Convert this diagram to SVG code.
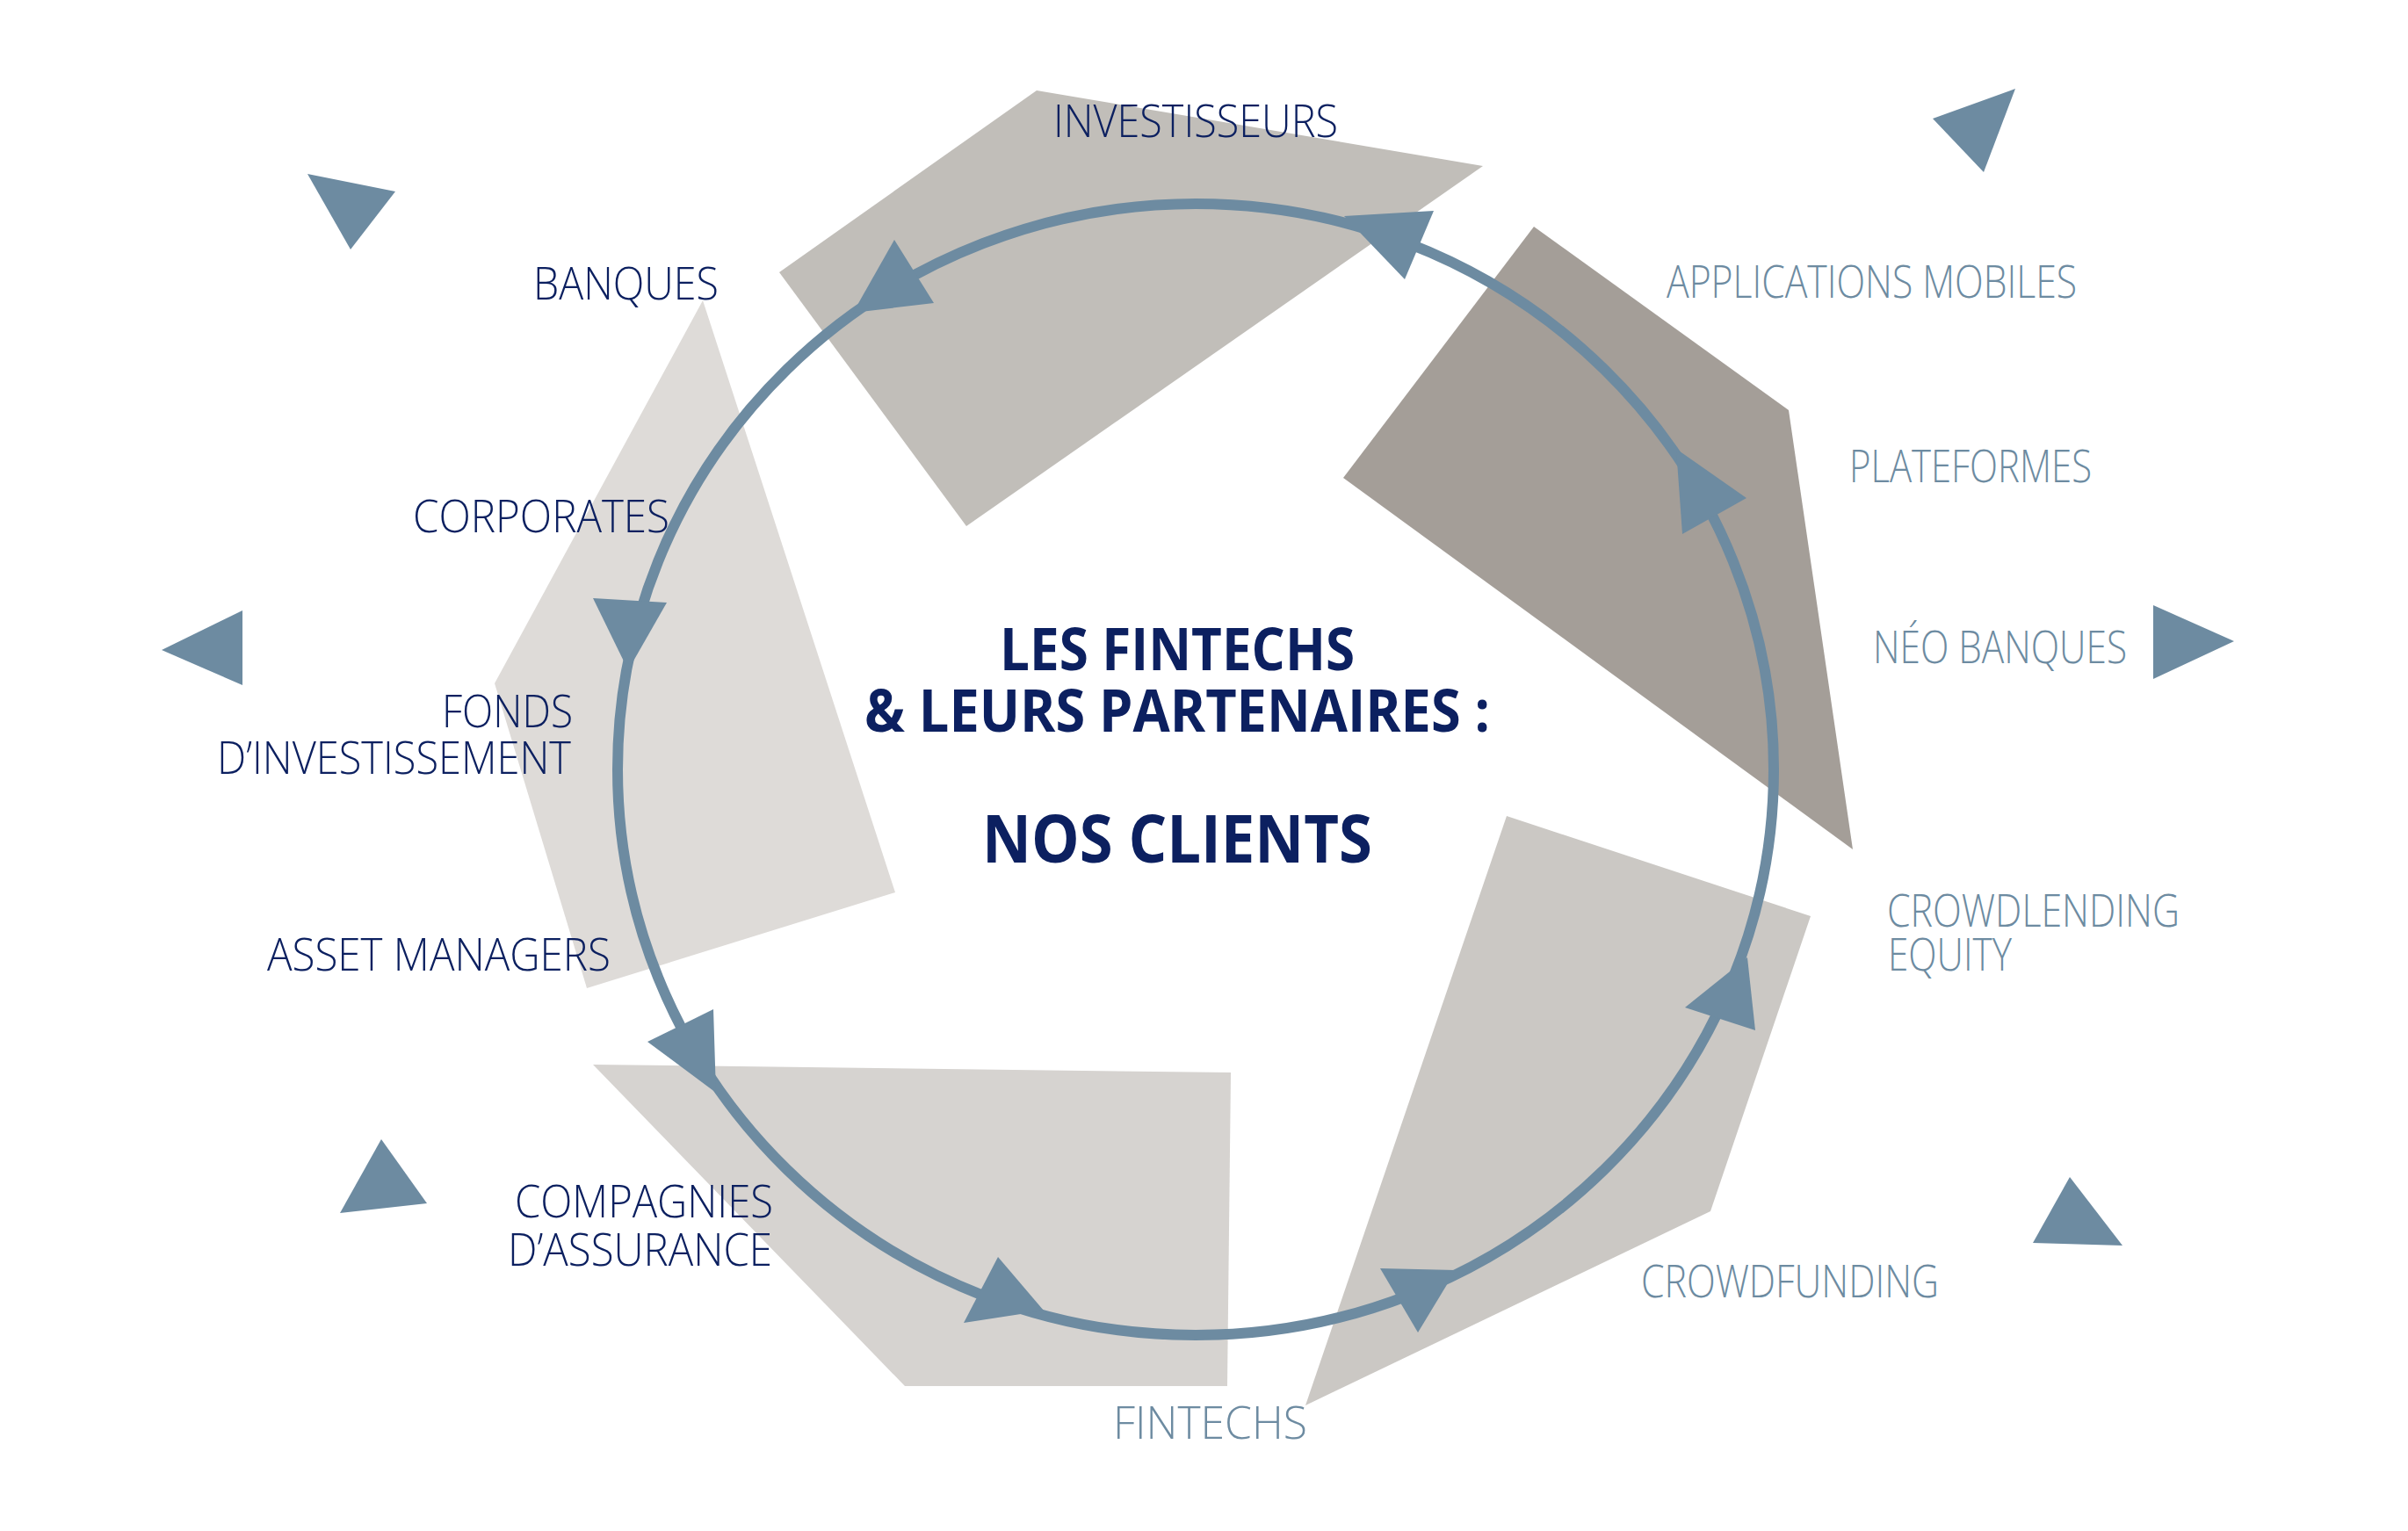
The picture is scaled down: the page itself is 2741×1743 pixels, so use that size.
<svg xmlns="http://www.w3.org/2000/svg" width="2741" height="1743" viewBox="0 0 2741 1743">
<style>
.lbl{font-family:"Open Sans","Lato","Liberation Sans",sans-serif;font-weight:300;font-size:52px;}
.navy{fill:#0c2060;}
.steel{fill:#6d8ba1;}
.title{font-family:"Open Sans","Liberation Sans",sans-serif;font-weight:700;fill:#0c2060;}
.tri{fill:#6d8ba1;}
</style>
<rect width="2741" height="1743" fill="#ffffff"/>
<g id="shapes">
<polygon id="shape-investisseurs" points="1180,103 1688,189 1100,599 887,310" fill="#c1beb9"/>
<polygon id="shape-applications" points="1746,258 2036,467 2109,967 1529,544" fill="#a49e98"/>
<polygon id="shape-banques" points="800,342 1019,1016 668,1125 563,778" fill="#dedbd8"/>
<polygon id="shape-compagnies" points="675,1212 1401,1221 1397,1578 1030,1578" fill="#d6d3d0"/>
<polygon id="shape-crowdfunding" points="1715,929 2061,1043 1947,1379 1486,1600" fill="#cbc8c4"/>
</g>
<g id="connectors">
<ellipse cx="1361" cy="876" rx="658" ry="644" fill="none" stroke="#6d8ba1" stroke-width="12"/>
<polygon class="tri" points="1018,273 1063,345 971,356"/>
<polygon class="tri" points="1530,246 1632,240 1599,318"/>
<polygon class="tri" points="1908,511 1988,567 1915,608"/>
<polygon class="tri" points="1918,1147 1989,1090 1998,1173"/>
<polygon class="tri" points="1571,1444 1657,1446 1614,1517"/>
<polygon class="tri" points="1136,1431 1097,1506 1188,1492"/>
<polygon class="tri" points="737,1186 812,1149 815,1244"/>
<polygon class="tri" points="675,681 759,686 715,763"/>
</g>
<g id="decor">
<polygon class="tri" points="350,198 450,218 399,284"/>
<polygon class="tri" points="184,740 276,695 276,780"/>
<polygon class="tri" points="434,1297 486,1370 387,1381"/>
<polygon class="tri" points="2200,135 2294,101 2258,196"/>
<polygon class="tri" points="2451,689 2543,730 2451,773"/>
<polygon class="tri" points="2356,1340 2416,1418 2314,1415"/>
</g>
<g id="node-investisseurs"><text class="lbl navy" x="1199" y="156" textLength="324" lengthAdjust="spacingAndGlyphs">INVESTISSEURS</text></g>
<g id="node-banques"><text class="lbl navy" x="607" y="341" textLength="211" lengthAdjust="spacingAndGlyphs">BANQUES</text></g>
<g id="node-corporates"><text class="lbl navy" x="470" y="606" textLength="292" lengthAdjust="spacingAndGlyphs">CORPORATES</text></g>
<g id="node-fonds">
<text class="lbl navy" x="503" y="828" textLength="149" lengthAdjust="spacingAndGlyphs">FONDS</text>
<text class="lbl navy" x="247" y="881" textLength="403" lengthAdjust="spacingAndGlyphs">D’INVESTISSEMENT</text>
</g>
<g id="node-asset"><text class="lbl navy" x="304" y="1105" textLength="391" lengthAdjust="spacingAndGlyphs">ASSET MANAGERS</text></g>
<g id="node-compagnies">
<text class="lbl navy" x="586" y="1386" textLength="294" lengthAdjust="spacingAndGlyphs">COMPAGNIES</text>
<text class="lbl navy" x="578" y="1441" textLength="301" lengthAdjust="spacingAndGlyphs">D’ASSURANCE</text>
</g>
<g id="node-applications"><text class="lbl steel" x="1897" y="339" textLength="467" lengthAdjust="spacingAndGlyphs">APPLICATIONS MOBILES</text></g>
<g id="node-plateformes"><text class="lbl steel" x="2105" y="549" textLength="276" lengthAdjust="spacingAndGlyphs">PLATEFORMES</text></g>
<g id="node-neobanques"><text class="lbl steel" x="2132" y="755" textLength="289" lengthAdjust="spacingAndGlyphs">NÉO BANQUES</text></g>
<g id="node-crowdlending">
<text class="lbl steel" x="2148" y="1055" textLength="333" lengthAdjust="spacingAndGlyphs">CROWDLENDING</text>
<text class="lbl steel" x="2149" y="1105" textLength="141" lengthAdjust="spacingAndGlyphs">EQUITY</text>
</g>
<g id="node-crowdfunding"><text class="lbl steel" x="1868" y="1477" textLength="339" lengthAdjust="spacingAndGlyphs">CROWDFUNDING</text></g>
<g id="node-fintechs"><text class="lbl steel" x="1267" y="1638" textLength="221" lengthAdjust="spacingAndGlyphs">FINTECHS</text></g>
<g id="node-center">
<text class="title" x="1340" y="763" font-size="66" text-anchor="middle" textLength="404" lengthAdjust="spacingAndGlyphs">LES FINTECHS</text>
<text class="title" x="1340" y="833" font-size="66" text-anchor="middle" textLength="712" lengthAdjust="spacingAndGlyphs">&amp; LEURS PARTENAIRES :</text>
<text class="title" x="1340" y="982" font-size="76" text-anchor="middle" textLength="444" lengthAdjust="spacingAndGlyphs">NOS CLIENTS</text>
</g>
</svg>
